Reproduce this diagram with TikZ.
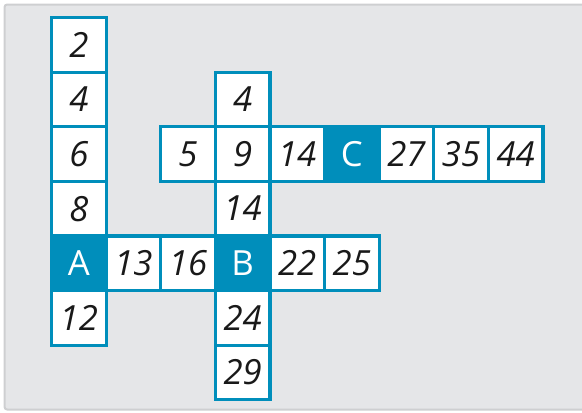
\documentclass[tikz,border=0pt]{standalone}
\usepackage{fontspec}
\setmainfont{Open Sans}
\usepackage{tikz}

\definecolor{cellblue}{RGB}{0,142,187}
\definecolor{panelgray}{RGB}{229,230,232}
\definecolor{panelline}{RGB}{206,207,209}

\tikzset{
  cell/.style={draw=cellblue, line width=2.4pt, fill=white, minimum size=40.95pt, inner sep=0pt, font=\fontsize{26}{26}\selectfont\itshape, text=black!90},
  keycell/.style={cell, fill=cellblue, text=white, font=\fontsize{26}{26}\selectfont\upshape}
}

\begin{document}
\begin{tikzpicture}[x=0.75pt,y=0.75pt,yscale=-1,xscale=1]
\useasboundingbox (0,0) rectangle (582,412);
%Panel
\draw [draw=panelline, fill=panelgray, line width=1.5pt, rounded corners=2pt] (4.5,4.5) rectangle (590,409.5);

%Column through A
\node [cell] (n2)  at (78.8,44.8)  {2};
\node [cell] (n4)  at (78.8,99.4)  {4};
\node [cell] (n6)  at (78.8,154)   {6};
\node [cell] (n8)  at (78.8,208.6) {8};
\node [cell] (n12) at (78.8,317.8) {12};

%Row through A and B
\node [cell] (n13) at (133.4,263.2) {13};
\node [cell] (n16) at (188,263.2)   {16};
\node [cell] (n22) at (297.2,263.2) {22};
\node [cell] (n25) at (351.8,263.2) {25};

%Column through B
\node [cell] (b4)  at (242.6,99.4)  {4};
\node [cell] (n9)  at (242.6,154)   {9};
\node [cell] (b14) at (242.6,208.6) {14};
\node [cell] (n24) at (242.6,317.8) {24};
\node [cell] (n29) at (242.6,372.4) {29};

%Row through C
\node [cell] (n5)  at (188,154)   {5};
\node [cell] (c14) at (297.2,154) {14};
\node [cell] (n27) at (406.4,154) {27};
\node [cell] (n35) at (461,154)   {35};
\node [cell] (n44) at (515.6,154) {44};

%Letter cells
\node [keycell] (A) at (78.8,263.2)  {A};
\node [keycell] (B) at (242.6,263.2) {B};
\node [keycell] (C) at (351.8,154)   {C};

\end{tikzpicture}
\end{document}
